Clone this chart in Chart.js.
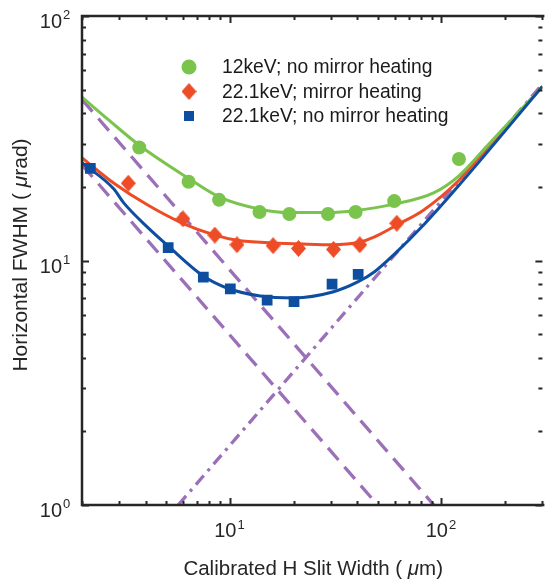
<!DOCTYPE html>
<html>
<head>
<meta charset="utf-8">
<script src="https://cdn.jsdelivr.net/npm/chart.js@4.4.1/dist/chart.umd.min.js"></script>
<style>
    html, body { margin: 0; padding: 0; background: #fff; }
    #fwhmChart { display: block; }
</style>
</head>
<body>
<canvas id="fwhmChart" width="550" height="579"></canvas>
<script>
// measured points
const slit12keV = [3.73, 6.38, 8.89, 13.8, 19.1, 29.1, 39.3, 59.8, 121];
const fwhm12keV = [29.0, 21.0, 17.7, 15.8, 15.5, 15.5, 15.8, 17.5, 26.0];

const slitHeated = [3.31, 6.0, 8.49, 10.8, 16.0, 21.1, 30.9, 41.1, 61.5];
const fwhmHeated = [20.7, 14.8, 12.7, 11.6, 11.5, 11.2, 11.1, 11.6, 14.2];

const slitCool = [2.19, 5.11, 7.49, 10.05, 15.0, 20.1, 30.4, 40.4];
const fwhmCool = [23.8, 11.3, 8.56, 7.65, 6.89, 6.79, 8.0, 8.78];

// fitted curves
const fitSlit12keV = [2, 2.68, 3.77, 6.31, 8.89, 13.9, 19, 29.2, 39.4, 59.8, 91.8, 121, 165, 300];
const fitFwhm12keV = [46.6, 37.5, 29.4, 21.8, 18.2, 16.2, 15.7, 15.7, 16.0, 17.0, 18.9, 22.2, 29.5, 51.5];

const fitSlitHeated = [2, 2.83, 4.07, 5.98, 8.51, 10.8, 16, 21.2, 30.6, 41.1, 48.3, 61.8, 82.5, 121, 165, 300];
const fitFwhmHeated = [26.3, 20.7, 16.9, 14.2, 12.7, 12.1, 11.8, 11.7, 11.6, 11.9, 12.5, 14.0, 16.1, 21.3, 29.0, 51.5];

const fitSlitCool = [2, 2.83, 3.15, 4.11, 5.09, 7.49, 9.68, 13.9, 20.1, 30.6, 40.2, 48.3, 59.8, 82.5, 121, 300];
const fitFwhmCool = [25.1, 19.6, 17.2, 13.6, 11.5, 8.64, 7.72, 7.16, 7.03, 7.43, 8.17, 9.0, 10.6, 14.0, 20.3, 51.5];

// asymptotes
const diffUpperSlit = [2, 92];
const diffUpperFwhm = [45.5, 1];
const diffLowerSlit = [2, 49.9];
const diffLowerFwhm = [24.6, 1];
const geomSlit = [5.7, 300];
const geomFwhm = [1, 52.6];

const xMajorTicks = [10, 100];
const yMajorTicks = [1, 10, 100];

const legendLabels = [
    '12keV; no mirror heating',
    '22.1keV; mirror heating',
    '22.1keV; no mirror heating',
];

(function () {
    const GREEN = 'rgb(122, 196, 78)';
    const RED = 'rgb(237, 76, 38)';
    const BLUE = 'rgb(14, 78, 160)';
    const PURPLE = 'rgb(156, 112, 184)';
    const INK = '#262626';
    const FONT = "'Liberation Sans', Arial, sans-serif";

    function toPoints(xs, ys) {
        return xs.map((x, i) => ({ x: x, y: ys[i] }));
    }

    function makeDiamond(w, h, color) {
        const c = document.createElement('canvas');
        c.width = w;
        c.height = h;
        const g = c.getContext('2d');
        g.fillStyle = color;
        g.beginPath();
        g.moveTo(w / 2, 0);
        g.lineTo(w, h / 2);
        g.lineTo(w / 2, h);
        g.lineTo(0, h / 2);
        g.closePath();
        g.fill();
        return c;
    }

    const diamond = makeDiamond(15, 17, RED);

    function drawRich(ctx, parts, x, y, size) {
        // parts: [text, italic]
        let total = 0;
        const widths = parts.map((p) => {
            ctx.font = (p[1] ? 'italic ' : '') + size + 'px ' + FONT;
            const w = ctx.measureText(p[0]).width;
            total += w;
            return w;
        });
        let cx = x - total / 2;
        parts.forEach((p, i) => {
            ctx.font = (p[1] ? 'italic ' : '') + size + 'px ' + FONT;
            ctx.fillText(p[0], cx, y);
            cx += widths[i];
        });
    }

    function logTicks(min, max) {
        const out = [];
        for (let d = 1; d <= 1000; d *= 10) {
            for (let m = 1; m <= 9; m++) {
                const v = m * d;
                if (v >= min - 1e-9 && v <= max + 1e-9) {
                    out.push({ v: v, major: m === 1 });
                }
            }
        }
        return out;
    }

    const axisFrame = {
        id: 'axisFrame',

        afterDatasetsDraw(chart) {
            const { ctx, chartArea: a, scales } = chart;
            const xs = scales.x;
            const ys = scales.y;

            ctx.save();

            // inward ticks on all four sides
            ctx.strokeStyle = INK;
            ctx.lineWidth = 2;
            ctx.beginPath();
            logTicks(xs.min, xs.max).forEach((t) => {
                const px = Math.round(xs.getPixelForValue(t.v)) + 0.5;
                const len = t.major ? 7 : 4;
                ctx.moveTo(px, a.bottom);
                ctx.lineTo(px, a.bottom - len);
                ctx.moveTo(px, a.top);
                ctx.lineTo(px, a.top + len);
            });
            logTicks(ys.min, ys.max).forEach((t) => {
                const py = Math.round(ys.getPixelForValue(t.v)) + 0.5;
                const len = t.major ? 7 : 4;
                ctx.moveTo(a.left, py);
                ctx.lineTo(a.left + len, py);
                ctx.moveTo(a.right, py);
                ctx.lineTo(a.right - len, py);
            });
            ctx.stroke();

            // box
            ctx.lineWidth = 2.5;
            ctx.beginPath();
            ctx.moveTo(a.right + 2, a.top);
            ctx.lineTo(a.left, a.top);
            ctx.lineTo(a.left, a.bottom);
            ctx.lineTo(a.right + 2, a.bottom);
            ctx.stroke();

            // tick labels 10^n
            ctx.fillStyle = INK;
            ctx.textBaseline = 'alphabetic';
            yMajorTicks.forEach((v) => {
                const py = ys.getPixelForValue(v);
                const exp = String(Math.round(Math.log10(v)));
                ctx.font = '20px ' + FONT;
                ctx.textAlign = 'right';
                ctx.fillText('10', 62, py + 12);
                ctx.font = '13px ' + FONT;
                ctx.textAlign = 'left';
                ctx.fillText(exp, 63, py + 3);
            });
            xMajorTicks.forEach((v) => {
                const px = xs.getPixelForValue(v);
                const exp = String(Math.round(Math.log10(v)));
                ctx.font = '20px ' + FONT;
                ctx.textAlign = 'right';
                ctx.fillText('10', px + 6.5, 537);
                ctx.font = '13px ' + FONT;
                ctx.textAlign = 'left';
                ctx.fillText(exp, px + 7.5, 529);
            });

            // axis titles
            ctx.textAlign = 'left';
            drawRich(ctx, [
                ['Calibrated H Slit Width ( ', false],
                ['\u03bc', true],
                ['m)', false],
            ], (a.left + a.right) / 2 + 1, 575, 20.5);

            ctx.save();
            ctx.translate(27, 255);
            ctx.rotate(-Math.PI / 2);
            drawRich(ctx, [
                ['Horizontal FWHM ( ', false],
                ['\u03bc', true],
                ['rad)', false],
            ], 0, 0, 21);
            ctx.restore();

            // legend
            const lx = 189;
            const rows = [67, 91.5, 116];

            ctx.fillStyle = GREEN;
            ctx.beginPath();
            ctx.arc(lx, rows[0], 7.5, 0, Math.PI * 2);
            ctx.fill();

            ctx.drawImage(diamond, lx - 7.5, rows[1] - 8.5);

            ctx.fillStyle = BLUE;
            ctx.fillRect(lx - 5, rows[2] - 5, 10, 10);

            ctx.fillStyle = '#1a1a1a';
            ctx.font = '19.3px ' + FONT;
            ctx.textAlign = 'left';
            ctx.textBaseline = 'middle';
            legendLabels.forEach((label, i) => {
                ctx.fillText(label, 222, rows[i] + 1);
            });

            ctx.restore();
        },
    };

    function curve(xs, ys, color, order) {
        return {
            data: toPoints(xs, ys),
            showLine: true,
            borderColor: color,
            borderWidth: 3,
            pointRadius: 0,
            cubicInterpolationMode: 'monotone',
            order: order,
        };
    }

    function guide(xs, ys, dash) {
        return {
            data: toPoints(xs, ys),
            showLine: true,
            borderColor: PURPLE,
            borderWidth: 3.3,
            borderDash: dash,
            pointRadius: 0,
            order: 5,
        };
    }

    const ctx = document.getElementById('fwhmChart').getContext('2d');

    new Chart(ctx, {
        type: 'scatter',

        data: {
            datasets: [
                {
                    data: toPoints(slit12keV, fwhm12keV),
                    pointStyle: 'circle',
                    pointRadius: 7,
                    backgroundColor: GREEN,
                    borderWidth: 0,
                    order: 0,
                },
                {
                    data: toPoints(slitHeated, fwhmHeated),
                    pointStyle: diamond,
                    order: 0,
                },
                {
                    data: toPoints(slitCool, fwhmCool),
                    pointStyle: 'rect',
                    pointRadius: 7.6,
                    backgroundColor: BLUE,
                    borderWidth: 0,
                    order: 0,
                },
                curve(fitSlit12keV, fitFwhm12keV, GREEN, 2),
                curve(fitSlitHeated, fitFwhmHeated, RED, 2),
                curve(fitSlitCool, fitFwhmCool, BLUE, 1),
                guide(diffUpperSlit, diffUpperFwhm, [16, 9]),
                guide(diffLowerSlit, diffLowerFwhm, [16, 9]),
                guide(geomSlit, geomFwhm, [12, 6, 3, 6]),
            ],
        },

        options: {
            responsive: false,

            animation: false,

            layout: {
                padding: { left: 82, top: 16, right: 0, bottom: 74 },
            },

            plugins: {
                legend: { display: false },
                tooltip: { enabled: false },
            },

            scales: {
                x: {
                    type: 'logarithmic',
                    min: 2,
                    max: 300,
                    display: false,
                },

                y: {
                    type: 'logarithmic',
                    min: 1,
                    max: 100,
                    display: false,
                },
            },
        },

        plugins: [axisFrame],
    });
})();
</script>
</body>
</html>
